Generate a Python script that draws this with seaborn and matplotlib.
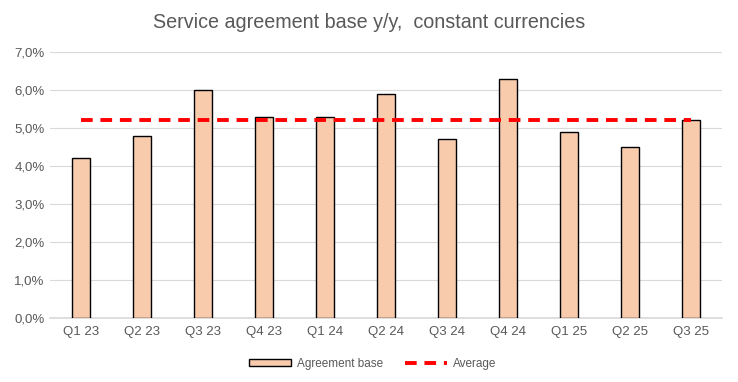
import matplotlib
matplotlib.use("Agg")
import matplotlib.pyplot as plt
import seaborn as sns
import pandas as pd
import numpy as np
from matplotlib.ticker import FuncFormatter

quarters = ["Q1 23", "Q2 23", "Q3 23", "Q4 23", "Q1 24", "Q2 24", "Q3 24", "Q4 24", "Q1 25", "Q2 25", "Q3 25"]
agreement_base = [4.2, 4.8, 6.0, 5.3, 5.3, 5.9, 4.7, 6.3, 4.9, 4.5, 5.2]
average = [5.2] * len(quarters)

sns.set_theme(style="white")
plt.rcParams['font.family'] = ['Liberation Sans', 'DejaVu Sans']

df = pd.DataFrame({"Quarter": quarters, "Agreement base": agreement_base, "Average": average})

fig = plt.figure(figsize=(7.38, 3.82), dpi=100)
ax = fig.add_axes([0.068, 0.1675, 0.91, 0.6965])

sns.barplot(data=df, x="Quarter", y="Agreement base", color="#F8CBAD", edgecolor="black",
            linewidth=1.0, width=0.3, saturation=1, ax=ax, label="Agreement base", zorder=3)
sns.lineplot(data=df, x="Quarter", y="Average", color="#FF0000", linewidth=2.8,
             linestyle=(0, (3, 2)), ax=ax, label="Average", zorder=4)

ax.set_ylim(0, 7.0)
ax.set_xlim(-0.5, len(quarters) - 0.5)
ax.set_yticks(np.arange(0, 7.01, 1.0))
ax.yaxis.set_major_formatter(FuncFormatter(lambda v, p: f"{v:.1f}%".replace(".", ",")))
ax.grid(axis="y", color="#D9D9D9", linewidth=0.8, zorder=0)
ax.set_axisbelow(True)
for s in ["top", "right", "left"]:
    ax.spines[s].set_visible(False)
ax.spines["bottom"].set_color("#D9D9D9")
ax.set_xlabel("")
ax.set_ylabel("")
ax.tick_params(axis="both", colors="#595959", labelsize=9.5, length=0)
ax.tick_params(axis="y", pad=4)
ax.set_xticks(np.arange(-0.5, len(quarters), 1.0), minor=True)
ax.tick_params(axis="x", which="minor", length=4, color="#D9D9D9", width=0.8)
ax.tick_params(axis="x", which="major", pad=6)

fig.suptitle("Service agreement base y/y,  constant currencies", x=0.5, y=0.965,
             fontsize=14.2, color="#595959")

handles, labels = ax.get_legend_handles_labels()
order = [labels.index("Agreement base"), labels.index("Average")]
ax.legend([handles[i] for i in order], [labels[i] for i in order],
          loc="upper center", bbox_to_anchor=(0.48, -0.11), ncol=2, frameon=False,
          fontsize=8.5, labelcolor="#595959", handlelength=3.6, columnspacing=1.8,
          handleheight=0.55, handletextpad=0.5)

fig.savefig("out.png", dpi=100)
